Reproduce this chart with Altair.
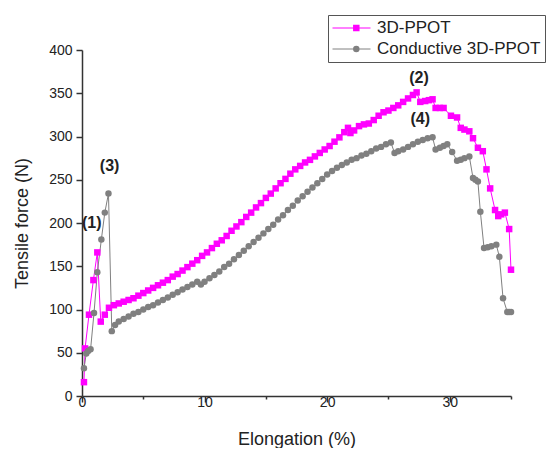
import altair as alt
import pandas as pd

series_names = ["3D-PPOT", "Conductive 3D-PPOT"]
series_codes = ["p", "g"]
series_colors = ["#FF00FF", "#808080"]

pink_x = [0.16, 0.25, 0.57, 0.93, 1.25, 1.53, 1.86, 2.2, 2.6, 3.0, 3.4, 3.8, 4.2, 4.6, 5.0,
          5.4, 5.8, 6.2, 6.6, 7.0, 7.4, 7.8, 8.2, 8.6, 9.0, 9.4, 9.8, 10.2, 10.6, 11.0,
          11.4, 11.8, 12.2, 12.6, 13.0, 13.4, 13.8, 14.2, 14.6, 15.0, 15.4, 15.8, 16.2,
          16.6, 17.0, 17.4, 17.8, 18.2, 18.6, 19.0, 19.4, 19.8, 20.2, 20.6, 21.0, 21.4,
          21.7, 21.9, 22.2, 22.6, 23.0, 23.4, 23.8, 24.2, 24.6, 25.0, 25.4, 25.8, 26.2,
          26.6, 27.0, 27.3, 27.6, 28.0, 28.3, 28.6, 28.85, 29.2, 29.5, 30.1, 30.6, 30.9,
          31.2, 31.6, 31.9, 32.3, 32.7, 33.0, 33.3, 33.7, 33.96, 34.2, 34.5, 34.85, 35.0]
pink_y = [16, 55, 94, 134, 166, 86, 94, 102, 105, 107, 109, 111, 113, 116, 119, 122, 125,
          128, 131, 134, 138, 141, 145, 149, 153, 157, 162, 166, 171, 176, 180, 185, 191,
          196, 201, 207, 212, 218, 223, 229, 234, 240, 246, 251, 257, 262, 266, 270, 273,
          277, 281, 285, 289, 294, 299, 305, 310, 304, 307, 312, 314, 315, 319, 324, 328,
          330, 333, 336, 340, 344, 348, 351, 340, 341, 342, 343, 333, 333, 333, 324, 322,
          310, 308, 306, 298, 287, 283, 262, 240, 215, 208, 210, 212, 193, 146]

gray_x = [0.16, 0.35, 0.5, 0.7, 0.98, 1.25, 1.58, 1.86, 2.16, 2.43, 2.7, 3.0, 3.4, 3.8,
          4.2, 4.6, 5.0, 5.4, 5.8, 6.2, 6.6, 7.0, 7.4, 7.8, 8.2, 8.6, 9.0, 9.4, 9.7, 10.0,
          10.4, 10.8, 11.2, 11.6, 12.0, 12.4, 12.8, 13.2, 13.6, 14.0, 14.4, 14.8, 15.2,
          15.6, 16.0, 16.4, 16.8, 17.2, 17.6, 18.0, 18.4, 18.8, 19.2, 19.6, 20.0, 20.4,
          20.8, 21.2, 21.6, 22.0, 22.4, 22.8, 23.2, 23.6, 24.0, 24.4, 24.8, 25.2, 25.5,
          25.8, 26.2, 26.6, 27.0, 27.4, 27.8, 28.2, 28.6, 28.85, 29.2, 29.5, 29.8, 30.2,
          30.6, 30.9, 31.2, 31.6, 31.9, 32.1, 32.3, 32.5, 32.8, 33.1, 33.4, 33.8, 34.05,
          34.35, 34.7, 34.85, 35.0]
gray_y = [32, 49, 52, 54, 96, 143, 181, 212, 234, 75, 82, 86, 89, 92, 95, 97, 100, 103,
          105, 108, 111, 114, 117, 120, 123, 126, 129, 132, 129, 132, 136, 140, 144, 149,
          153, 158, 163, 168, 173, 178, 183, 188, 193, 198, 204, 209, 215, 220, 226, 231,
          236, 241, 246, 251, 256, 260, 264, 267, 270, 273, 275, 278, 280, 283, 286, 288,
          291, 293, 281, 283, 285, 288, 291, 294, 296, 298, 299, 285, 287, 289, 291, 282,
          272, 273, 275, 277, 252, 250, 248, 213, 171, 172, 173, 175, 161, 113, 97, 97, 97]

x_ticks = [0, 5, 10, 15, 20, 25, 30, 35]
y_ticks = [0, 25, 50, 75, 100, 125, 150, 175, 200, 225, 250, 275, 300, 325, 350, 375, 400]

annot_labels = ["(1)", "(2)", "(3)", "(4)"]
annot_x = [0.8, 27.5, 2.25, 27.6]
annot_y = [200, 368, 266, 320]

rows = []
for sname, code, xs, ys in [(series_names[0], series_codes[0], pink_x, pink_y),
                            (series_names[1], series_codes[1], gray_x, gray_y)]:
    for i, (xv, yv) in enumerate(zip(xs, ys)):
        rows.append({"series": sname, "code": code, "x": xv, "y": yv, "order": i})
df = pd.DataFrame(rows)
annot_df = pd.DataFrame({"label": annot_labels, "x": annot_x, "y": annot_y})

FONT = "Liberation Sans"

xscale = alt.Scale(domain=[0, 35], nice=False, zero=False)
yscale = alt.Scale(domain=[0, 400], nice=False)

xaxis = alt.Axis(
    title="Elongation (%)", values=x_ticks, grid=False,
    labelExpr="datum.value % 10 === 0 ? datum.label : ''",
    tickSize={"condition": {"test": "datum.value % 10 === 0", "value": 6}, "value": 3},
    labelPadding=-7, titlePadding=21, labelFlush=False,
)
yaxis = alt.Axis(
    title="Tensile force (N)", values=y_ticks, grid=False,
    labelExpr="datum.value % 50 === 0 ? datum.label : ''",
    tickSize={"condition": {"test": "datum.value % 50 === 0", "value": 6}, "value": 3},
    labelPadding=4, titlePadding=17, labelFlush=False,
)

stroke_scale = alt.Scale(domain=series_names, range=series_colors)
color_scale = alt.Scale(domain=series_codes, range=series_colors)
shape_scale = alt.Scale(domain=series_codes, range=["square", "circle"])

# legend of the lines: a 38 px stroke per entry, framed box
line_legend = alt.Legend(
    title=None, symbolType="stroke", symbolSize=1444, symbolStrokeWidth=1,
    labelOffset=6, strokeColor="#555555",
)
# legend of the markers: same spot, marker centred on the stroke, no labels
marker_legend = alt.Legend(
    title=None, symbolSize=42, symbolOffset=15.8, labelOffset=37.5,
    labelOpacity=0, labelExpr="''",
)

base = alt.Chart(df).encode(
    x=alt.X("x:Q", scale=xscale, axis=xaxis),
    y=alt.Y("y:Q", scale=yscale, axis=yaxis),
)

lines = base.mark_line(strokeWidth=1).encode(
    stroke=alt.Stroke("series:N", scale=stroke_scale, legend=line_legend),
    detail="series:N",
    order="order:Q",
)

points = base.mark_point(filled=True, opacity=1, size=42).encode(
    color=alt.Color("code:N", scale=color_scale, legend=marker_legend),
    shape=alt.Shape("code:N", scale=shape_scale, legend=marker_legend),
)

text = alt.Chart(annot_df).mark_text(
    font=FONT, fontSize=16, fontWeight="bold", color="#222222"
).encode(x=alt.X("x:Q", scale=xscale), y=alt.Y("y:Q", scale=yscale), text="label:N")

chart = alt.layer(lines, points, text).properties(
    width=429, height=346,
    padding={"left": 5, "top": 6, "right": 0, "bottom": 0},
).configure_view(stroke=None).configure_axis(
    domainColor="#333333", domainWidth=1.5, tickColor="#333333", tickWidth=1.5,
    labelFont=FONT, labelFontSize=14, labelColor="#222222",
    titleFont=FONT, titleFontSize=18, titleFontWeight="normal", titleColor="#222222",
).configure_legend(
    orient="none", legendX=246, legendY=-35,
    padding=4, labelFont=FONT, labelFontSize=17, labelColor="#222222", labelLimit=0,
    rowPadding=3, clipHeight=18,
)

chart.save("out.html", embed_options={"renderer": "svg", "actions": False})
